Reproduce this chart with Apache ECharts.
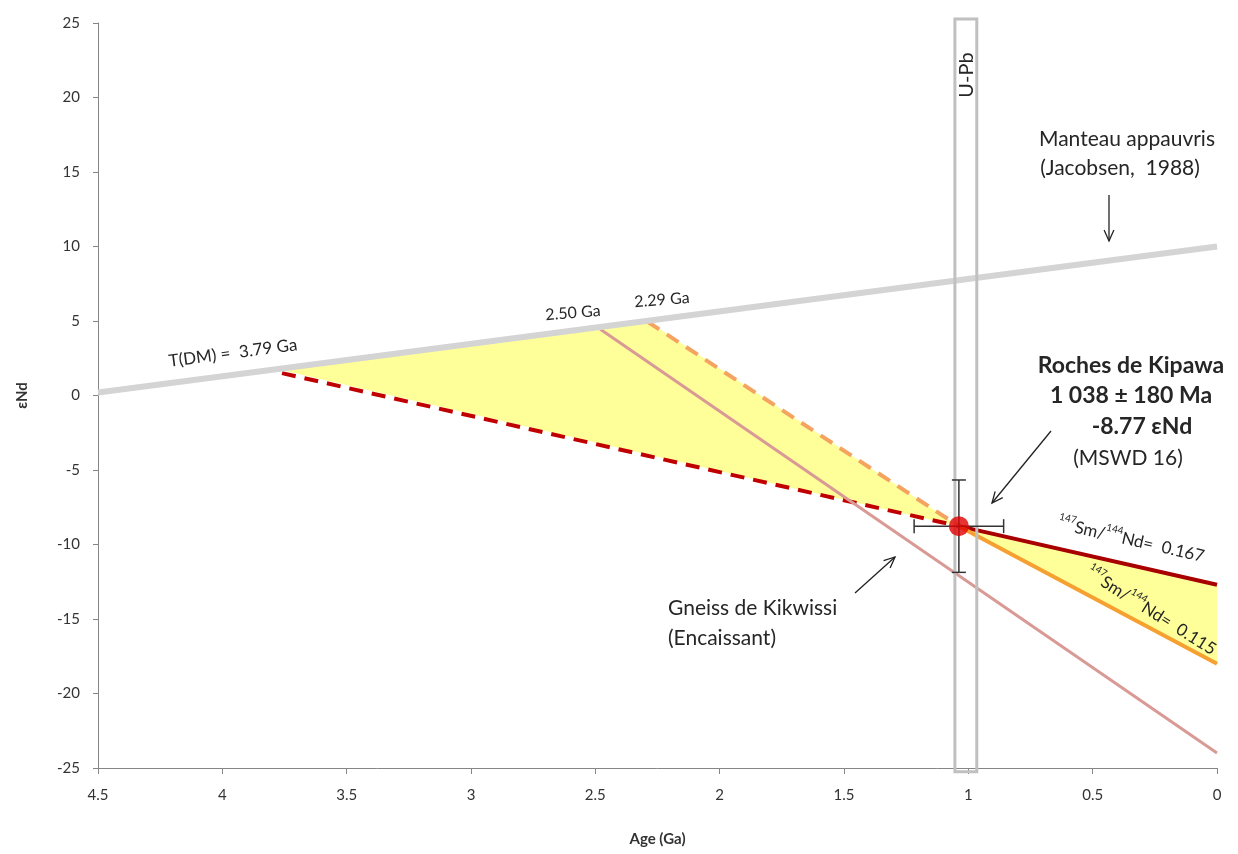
<!DOCTYPE html>
<html><head><meta charset="utf-8">
<script src="https://cdn.jsdelivr.net/npm/echarts@6/dist/echarts.min.js"></script>
<style>html,body{margin:0;padding:0;background:#fff}#c{width:1238px;height:854px}</style>
</head><body><div id="c"></div>
<script>
// ---- data ----
const xAxisRange = [0, 4.5];          // Age (Ga), inverted
const yAxisRange = [-25, 25];         // eNd
const dmLine = [[4.5, 0.2], [0, 10]];                 // depleted mantle (Jacobsen 1988)
const kipawaPoint = [1.038, -8.77];                   // 1038 Ma, -8.77 eNd
const kipawaErr = [0.18, 3.1];                        // +-180 Ma, +-3.1 eNd
const line167 = [[1.038, -8.77], [0, -12.7]];         // 147Sm/144Nd = 0.167
const line115 = [[1.038, -8.77], [0, -18.0]];         // 147Sm/144Nd = 0.115
const dash167 = [[3.76, 1.5], [1.038, -8.77]];        // back to T(DM) 3.79 Ga
const dash115 = [[2.29, 4.95], [1.038, -8.77]];       // back to 2.29 Ga
const gneissLine = [[2.48, 4.45], [0, -24.0]];        // Gneiss de Kikwissi
const fillLeft = [[3.76, 1.7], [2.29, 5.0], [1.038, -8.77]];
const fillRight = [[1.038, -8.77], [0, -12.7], [0, -18.0]];
const upbBox = [[1.054, 25.27], [0.966, -25.25]];

const chart = echarts.init(document.getElementById('c'));
const FONT = 'Lato, "Open Sans", sans-serif';

function polySeries(pts, color, z) {
  return {
    type: 'custom', coordinateSystem: 'cartesian2d', silent: true, z: z,
    data: [pts[0]],
    renderItem: (p, api) => ({
      type: 'polygon',
      shape: { points: pts.map(q => api.coord(q)) },
      style: { fill: color, stroke: null }
    })
  };
}
function lineSeries(data, color, width, type, z) {
  return {
    type: 'line', data: data, showSymbol: false, symbol: 'none', silent: true, z: z,
    lineStyle: { color: color, width: width, type: type, cap: 'butt' }
  };
}
function arrow(x1, y1, x2, y2) {
  const a = Math.atan2(y2 - y1, x2 - x1), L = 12, s = 0.42;
  return {
    type: 'group', children: [
      { type: 'line', shape: { x1, y1, x2, y2 }, style: { stroke: '#222', lineWidth: 1.3 } },
      { type: 'polyline', shape: { points: [
        [x2 - L * Math.cos(a - s), y2 - L * Math.sin(a - s)], [x2, y2],
        [x2 - L * Math.cos(a + s), y2 - L * Math.sin(a + s)]] },
        style: { stroke: '#222', lineWidth: 1.3, fill: null } }
    ]
  };
}
function txt(x, y, text, size, opts) {
  return Object.assign({
    type: 'text', x: x, y: y, z: 50,
    style: Object.assign({ text: text, font: (opts && opts.bold ? 'bold ' : '') + size + 'px ' + FONT,
      fill: '#262626', align: 'center', verticalAlign: 'middle' }, (opts && opts.style) || {})
  }, (opts && opts.el) || {});
}
const supRich = {
  sup: { fontSize: 10, fontFamily: FONT, fill: '#262626', verticalAlign: 'top', lineHeight: 24 },
  n: { fontSize: 17, fontFamily: FONT, fill: '#262626', lineHeight: 24 }
};

const option = {
  animation: false,
  backgroundColor: '#fff',
  grid: { left: 98, right: 21, top: 23, bottom: 86 },
  xAxis: {
    type: 'value', inverse: true, min: xAxisRange[0], max: xAxisRange[1], interval: 0.5,
    axisLine: { onZero: false, lineStyle: { color: '#868686', width: 1 } },
    axisTick: { show: true, length: 6, lineStyle: { color: '#868686' } },
    splitLine: { show: false },
    axisLabel: { color: '#333', fontFamily: FONT, fontSize: 15, margin: 20 },
    name: 'Age (Ga)', nameLocation: 'middle', nameGap: 64,
    nameTextStyle: { color: '#333', fontFamily: FONT, fontSize: 15, fontWeight: 'bold' }
  },
  yAxis: {
    type: 'value', position: 'left', min: yAxisRange[0], max: yAxisRange[1], interval: 5,
    axisLine: { show: true, onZero: false, lineStyle: { color: '#868686', width: 1 } },
    axisTick: { show: true, length: 5, lineStyle: { color: '#868686' } },
    splitLine: { show: false },
    axisLabel: { color: '#333', fontFamily: FONT, fontSize: 15, margin: 18 },
    name: 'εNd', nameLocation: 'middle', nameGap: 68,
    nameTextStyle: { color: '#333', fontFamily: FONT, fontSize: 15, fontWeight: 'bold' }
  },
  series: [
    polySeries(fillLeft, '#ffff99', 1),
    polySeries(fillRight, '#ffff99', 1),
    lineSeries(dash167, '#c00000', 4, [14, 9], 3),
    lineSeries(dash115, '#f4a460', 4, [14, 9], 3),
    lineSeries(line167, '#a80000', 4, 'solid', 4),
    lineSeries(line115, '#f5a030', 4, 'solid', 4),
    lineSeries(gneissLine, '#d99a96', 3, 'solid', 5),
    lineSeries(dmLine, '#d4d4d4', 6, 'solid', 6),
    {
      type: 'custom', coordinateSystem: 'cartesian2d', silent: true, z: 7, clip: false,
      data: [upbBox[0]],
      renderItem: (p, api) => {
        const a = api.coord(upbBox[0]), b = api.coord(upbBox[1]);
        return { type: 'rect', shape: { x: a[0], y: a[1], width: b[0] - a[0], height: b[1] - a[1] },
          style: { fill: null, stroke: '#c0c0c0', lineWidth: 3 } };
      }
    },
    {
      type: 'custom', coordinateSystem: 'cartesian2d', silent: true, z: 8,
      data: [[kipawaPoint[0], kipawaPoint[1], kipawaErr[0], kipawaErr[1]]],
      renderItem: (p, api) => {
        const x = api.value(0), y = api.value(1), ex = api.value(2), ey = api.value(3);
        const l = api.coord([x + ex, y]), r = api.coord([x - ex, y]);
        const t = api.coord([x, y + ey]), b = api.coord([x, y - ey]);
        const c = 7, st = { stroke: '#333', lineWidth: 1.5 };
        return { type: 'group', children: [
          { type: 'line', shape: { x1: l[0], y1: l[1], x2: r[0], y2: r[1] }, style: st },
          { type: 'line', shape: { x1: t[0], y1: t[1], x2: b[0], y2: b[1] }, style: st },
          { type: 'line', shape: { x1: l[0], y1: l[1] - c, x2: l[0], y2: l[1] + c }, style: st },
          { type: 'line', shape: { x1: r[0], y1: r[1] - c, x2: r[0], y2: r[1] + c }, style: st },
          { type: 'line', shape: { x1: t[0] - c, y1: t[1], x2: t[0] + c, y2: t[1] }, style: st },
          { type: 'line', shape: { x1: b[0] - c, y1: b[1], x2: b[0] + c, y2: b[1] }, style: st }
        ] };
      }
    },
    {
      type: 'scatter', data: [kipawaPoint], symbolSize: 20, silent: true, z: 9,
      itemStyle: { color: '#e00000' }
    }
  ],
  graphic: [
    txt(967, 75, 'U-Pb', 20, { el: { rotation: Math.PI / 2 } }),
    txt(1127, 139, 'Manteau appauvris', 21),
    txt(1120, 168, '(Jacobsen,  1988)', 21),
    arrow(1109, 195, 1109, 241),
    txt(1131, 366, 'Roches de Kipawa', 23, { bold: true }),
    txt(1131, 396, '1 038 ± 180 Ma', 23, { bold: true }),
    txt(1142, 427, '-8.77 εNd', 23, { bold: true }),
    txt(1128, 458, '(MSWD 16)', 21),
    arrow(1051, 431, 992, 503),
    txt(668, 608, 'Gneiss de Kikwissi', 21, { style: { align: 'left' } }),
    txt(668, 638, '(Encaissant)', 21, { style: { align: 'left' } }),
    arrow(855, 593, 895, 557),
    txt(233, 353, 'T(DM) =  3.79 Ga', 17, { el: { rotation: 0.13 } }),
    txt(573, 313, '2.50 Ga', 16, { el: { rotation: 0.08 } }),
    txt(662, 300, '2.29 Ga', 16, { el: { rotation: 0.08 } }),
    { type: 'text', x: 1131, y: 540, z: 50, rotation: -0.225,
      style: { text: '{sup|147}{n|Sm/}{sup|144}{n|Nd=  0.167}', rich: supRich, align: 'center', verticalAlign: 'middle' } },
    { type: 'text', x: 1151, y: 611, z: 50, rotation: -0.56,
      style: { text: '{sup|147}{n|Sm/}{sup|144}{n|Nd=  0.115}', rich: supRich, align: 'center', verticalAlign: 'middle' } }
  ]
};
chart.setOption(option);
</script></body></html>
